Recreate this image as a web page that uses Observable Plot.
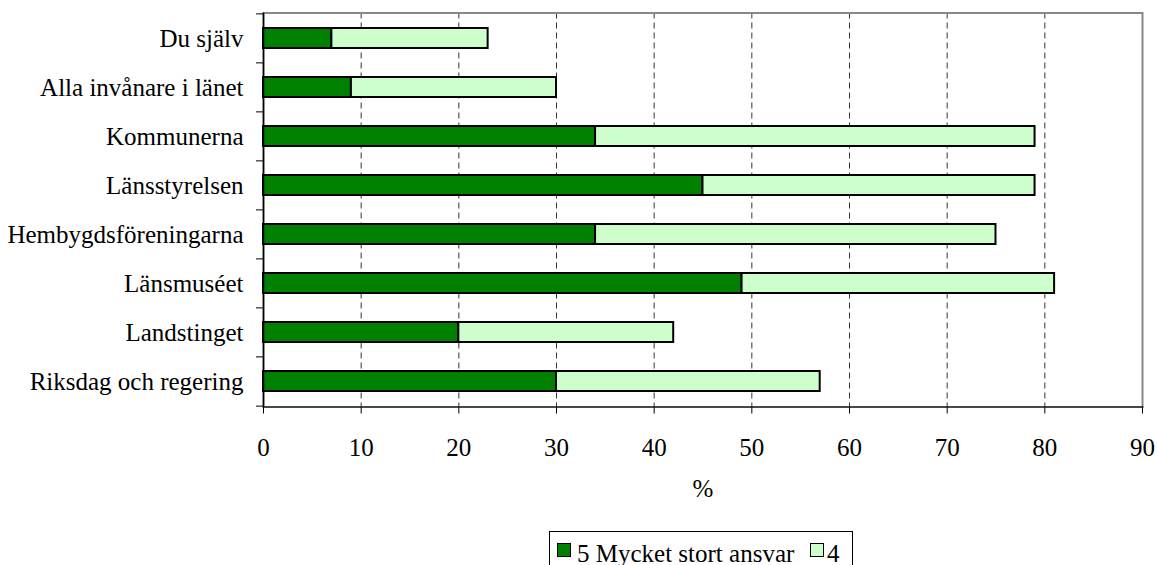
<!DOCTYPE html>
<html><head><meta charset="utf-8">
<script src="https://cdn.jsdelivr.net/npm/d3@7"></script>
<script src="https://cdn.jsdelivr.net/npm/@observablehq/plot@0.6"></script>
<style>
html,body{margin:0;padding:0;background:#fff;overflow:hidden;}
#wrap{position:relative;width:1157px;height:565px;}
#legend{position:absolute;left:549px;top:531px;width:304px;height:44px;border:1px solid #000;box-sizing:border-box;font-family:"Liberation Serif","Times New Roman",serif;font-size:25px;background:#fff;}
#legend .sq{position:absolute;width:14px;height:14px;border:1px solid #000;box-sizing:border-box;top:11px;}
#legend .lb{position:absolute;top:9px;line-height:25px;white-space:nowrap;color:#000;}
</style>
</head><body>
<div id="wrap"></div>
<script>
const categories = ["Du själv","Alla invånare i länet","Kommunerna","Länsstyrelsen","Hembygdsföreningarna","Länsmuséet","Landstinget","Riksdag och regering"];
const seriesNames = ["5 Mycket stort ansvar","4"];
const valuesVeryLarge = [7,9,34,45,34,49,20,30];
const values4 = [16,21,45,34,41,32,22,27];
const xTicks = [0,10,20,30,40,50,60,70,80,90];
const xLabel = ["%"];
const colors = ["#008000","#CCFFCC"];

const data = [];
categories.forEach((c,i)=>{
  data.push({category:c, series:seriesNames[0], value:valuesVeryLarge[i]});
  data.push({category:c, series:seriesNames[1], value:values4[i]});
});

const W=1157, H=565, mT=12.5, mB=158.5, mL=263, mR=15;
const step = (H-mT-mB)/categories.length;
const font = '"Liberation Serif","Times New Roman",serif';

const chart = Plot.plot({
  width:W, height:H, marginTop:mT, marginRight:mR, marginBottom:mB, marginLeft:mL,
  style:{fontFamily:font, fontSize:"25px", color:"black", background:"white", overflow:"visible"},
  x:{domain:[0,90], ticks:xTicks},
  y:{domain:categories, paddingInner:0.6, paddingOuter:0.3},
  color:{domain:seriesNames, range:colors},
  marks:[
    Plot.ruleX(xTicks.filter(d=>d>0 && d<90), {stroke:"#333", strokeDasharray:"6,4", strokeWidth:1}),
    Plot.frame({stroke:"#888", strokeWidth:2}),
    Plot.barX(data, {y:"category", x:"value", fill:"series", stroke:"black", strokeWidth:2}),
    Plot.ruleX([0], {stroke:"black", strokeWidth:1.5}),
    Plot.frame({anchor:"bottom", stroke:"#333", strokeWidth:1.5}),
    Plot.axisX(xTicks, {tickSize:7, tickPadding:24, fontSize:25, label:null}),
    Plot.axisY({tickSize:0, tickPadding:20, fontSize:25, label:null}),
    Plot.axisY({tickSize:7, tickFormat:()=>"", dy:-step/2, label:null}),
    Plot.axisY([categories[categories.length-1]], {tickSize:7, tickFormat:()=>"", dy:step/2, label:null}),
    Plot.text(xLabel, {text:d=>d, frameAnchor:"bottom", dy:90, fontSize:25})
  ]
});
const wrap = document.getElementById("wrap");
wrap.appendChild(chart);

const legend = document.createElement("div");
legend.id = "legend";
const pos = [{sq:7, lb:27},{sq:260, lb:277}];
seriesNames.forEach((s,i)=>{
  const sq = document.createElement("div");
  sq.className="sq"; sq.style.left=pos[i].sq+"px"; sq.style.background=colors[i];
  const lb = document.createElement("div");
  lb.className="lb"; lb.style.left=pos[i].lb+"px"; lb.textContent=s;
  legend.appendChild(sq); legend.appendChild(lb);
});
wrap.appendChild(legend);
</script>
</body></html>
